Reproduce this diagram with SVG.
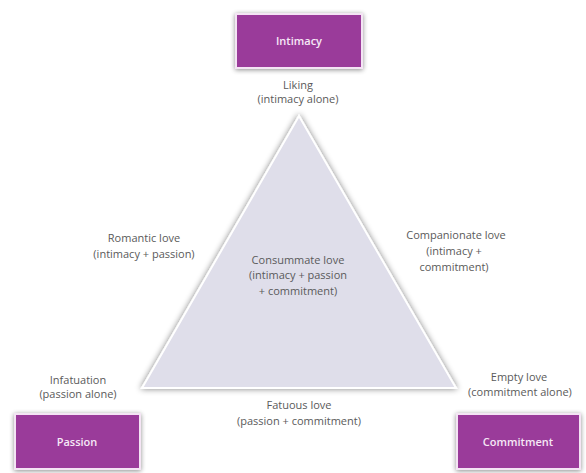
<svg xmlns="http://www.w3.org/2000/svg" width="586" height="473" viewBox="0 0 586 473">
  <defs>
    <filter id="shadow" x="-20%" y="-20%" width="140%" height="140%">
      <feGaussianBlur in="SourceAlpha" stdDeviation="2.5"/>
      <feOffset dx="0" dy="1" result="b"/>
      <feComponentTransfer><feFuncA type="linear" slope="0.45"/></feComponentTransfer>
      <feMerge><feMergeNode/><feMergeNode in="SourceGraphic"/></feMerge>
    </filter>
    <filter id="tshadow" x="-10%" y="-10%" width="120%" height="120%">
      <feGaussianBlur in="SourceAlpha" stdDeviation="3"/>
      <feComponentTransfer><feFuncA type="linear" slope="0.5"/></feComponentTransfer>
      <feMerge><feMergeNode/><feMergeNode in="SourceGraphic"/></feMerge>
    </filter>
  </defs>
  <style>
    .box { fill: #9a3b9a; stroke: #f4e4f4; stroke-width: 2; filter: url(#shadow); }
    .boxlabel { font-family: "Open Sans", "Liberation Sans", sans-serif; font-size: 11px; font-weight: 600; fill: #f6e8f6; text-anchor: middle; }
    .lbl { font-family: "Open Sans", "Liberation Sans", sans-serif; font-size: 11px; fill: #5a5a5a; text-anchor: middle; }
    .tri { fill: #dfdeea; stroke: #ffffff; stroke-width: 2; filter: url(#tshadow); }
  </style>
  <rect width="586" height="473" fill="#ffffff"/>

  <g id="connectors">
    <polygon class="tri" points="299,116 142,388 456,388"/>
  </g>

  <g id="intimacy">
    <rect class="box" x="236" y="14" width="126" height="54"/>
    <text class="boxlabel" x="299" y="45">Intimacy</text>
  </g>
  <g id="passion">
    <rect class="box" x="15" y="414" width="125" height="55"/>
    <text class="boxlabel" x="77" y="446">Passion</text>
  </g>
  <g id="commitment">
    <rect class="box" x="457" y="414" width="123" height="55"/>
    <text class="boxlabel" x="518" y="446">Commitment</text>
  </g>

  <g id="liking">
    <text class="lbl" x="298" y="89">Liking</text>
    <text class="lbl" x="298" y="103">(intimacy alone)</text>
  </g>
  <g id="romantic">
    <text class="lbl" x="144" y="242">Romantic love</text>
    <text class="lbl" x="144" y="258">(intimacy + passion)</text>
  </g>
  <g id="companionate">
    <text class="lbl" x="456" y="239">Companionate love</text>
    <text class="lbl" x="454" y="255">(intimacy +</text>
    <text class="lbl" x="454" y="271">commitment)</text>
  </g>
  <g id="consummate">
    <text class="lbl" x="298" y="264">Consummate love</text>
    <text class="lbl" x="298" y="279">(intimacy + passion</text>
    <text class="lbl" x="298" y="295">+ commitment)</text>
  </g>
  <g id="infatuation">
    <text class="lbl" x="78" y="384">Infatuation</text>
    <text class="lbl" x="78" y="398">(passion alone)</text>
  </g>
  <g id="fatuous">
    <text class="lbl" x="299" y="409">Fatuous love</text>
    <text class="lbl" x="299" y="425">(passion + commitment)</text>
  </g>
  <g id="empty">
    <text class="lbl" x="519" y="381">Empty love</text>
    <text class="lbl" x="520" y="396">(commitment alone)</text>
  </g>
</svg>
